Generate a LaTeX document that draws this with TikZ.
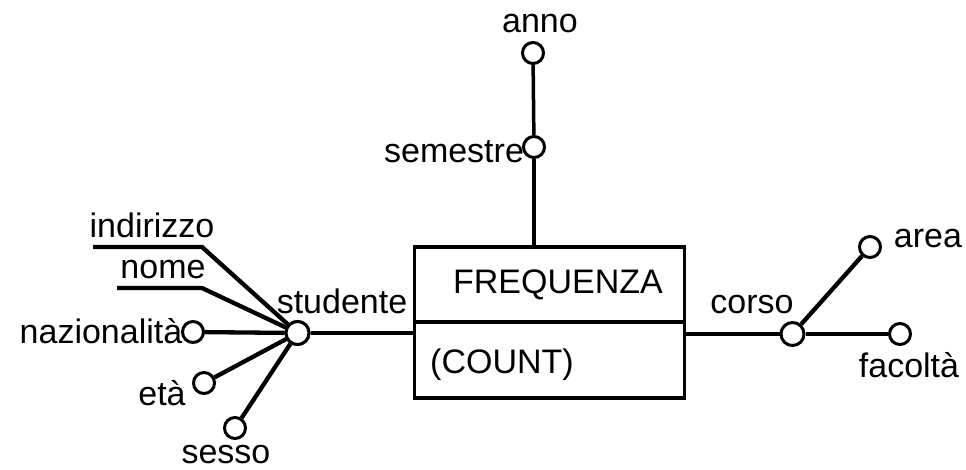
\documentclass[tikz,border=0pt]{standalone}
\usepackage{fontspec}
\setmainfont{Liberation Sans}
\begin{document}
\begin{tikzpicture}[x=1pt,y=-1pt,
  attr/.style={circle,draw,line width=3pt,minimum size=21pt,inner sep=0pt,fill=white},
  bigattr/.style={minimum size=23pt},
  lbl/.style={inner sep=0pt,anchor=base,font=\fontsize{34}{39}\selectfont},
  spoke/.style={line width=4.3pt},
  conn/.style={line width=3.5pt}]
\useasboundingbox (0,0) rectangle (966,469);
% main box
\node[draw,line width=3.3pt,minimum width=270pt,minimum height=151pt,inner sep=0pt] (freq) at (549.5,322.5) {};
\coordinate (divL) at (414.5,322);
\coordinate (divR) at (684.5,322);
\draw[conn] (divL) -- (divR);
\node[lbl] (freqT) at (558,293) {FREQUENZA};
\node[lbl] (countT) at (502,373) {(COUNT)};
% top
\node[attr] (anno) at (533,53) {};
\node[attr] (sem) at (534,147) {};
\coordinate (freqtop) at (533,246.5);
\draw[conn] (anno) -- (sem);
\draw[conn] (sem) -- (sem |- freqtop);
\node[lbl] (annoT) at (540,32) {anno};
\node[lbl] (semT) at (454,162) {semestre};
% studente
\node[attr,bigattr] (stud) at (297.5,333) {};
\node[attr] (naz) at (193,332) {};
\node[attr] (eta) at (204,383) {};
\node[attr] (ses) at (235,428) {};
\coordinate (ind1) at (93,247);
\coordinate (ind2) at (202,247);
\coordinate (nom1) at (117,288);
\coordinate (nom2) at (202,288);
\draw[spoke] (ind1) -- (ind2) -- (stud.center);
\draw[spoke] (nom1) -- (nom2) -- (stud.center);
\draw[spoke] (naz) -- (stud);
\draw[spoke] (eta) -- (stud);
\draw[spoke] (ses) -- (stud);
\node[attr,bigattr] at (stud) {};
\draw[conn] (stud) -- (stud -| freq.west);
\node[lbl] (indT) at (152,237) {indirizzo};
\node[lbl] (nomT) at (163,278) {nome};
\node[lbl] (studT) at (342,313) {studente};
\node[lbl] (nazT) at (101,343) {nazionalità};
\node[lbl] (etaT) at (162,405) {età};
\node[lbl] (sesT) at (226,463) {sesso};
% corso
\node[attr,bigattr] (corso) at (792.5,334) {};
\node[attr] (area) at (870,247) {};
\node[attr] (fac) at (900,334) {};
\draw[conn] (corso -| freq.east) -- (corso);
\draw[spoke] (corso) -- (area);
\draw[spoke] (corso) -- (fac);
\node[lbl] (areaT) at (928,247) {area};
\node[lbl] (corsoT) at (752,313) {corso};
\node[lbl] (facT) at (909,377) {facoltà};
\end{tikzpicture}
\end{document}
